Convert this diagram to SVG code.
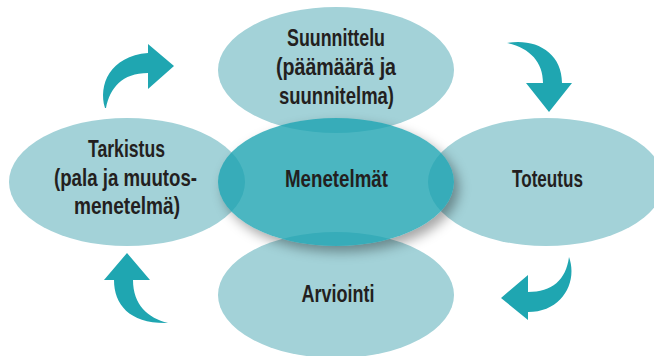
<svg xmlns="http://www.w3.org/2000/svg" width="654" height="356" viewBox="0 0 654 356">
  <style>
    .outer { fill: #A3D2D8; }
    .center { fill: #18A2AF; fill-opacity: 0.78; }
    .arrow { fill: #1FA6B1; }
    .lbl { font-family: "Liberation Sans", Arial, sans-serif; font-weight: bold; font-size: 24px; fill: #231F20; text-anchor: middle; }
  </style>
  <defs>
    <filter id="blur" x="-20%" y="-20%" width="140%" height="140%">
      <feGaussianBlur stdDeviation="6"/>
    </filter>
    <mask id="outsideCenter" maskUnits="userSpaceOnUse" x="0" y="0" width="654" height="356">
      <rect x="0" y="0" width="654" height="356" fill="#fff"/>
      <ellipse cx="336" cy="182" rx="118" ry="64" fill="#000"/>
    </mask>
  </defs>

  <g id="node-suunnittelu">
    <ellipse class="outer" cx="336" cy="70" rx="118" ry="63"/>
  </g>
  <g id="node-tarkistus">
    <ellipse class="outer" cx="127" cy="182" rx="118" ry="64"/>
  </g>
  <g id="node-toteutus">
    <ellipse class="outer" cx="546" cy="182" rx="118" ry="64"/>
  </g>
  <g id="node-arviointi">
    <ellipse class="outer" cx="336" cy="295" rx="118" ry="63"/>
  </g>

  <g id="node-menetelmat">
    <g mask="url(#outsideCenter)">
      <ellipse cx="341" cy="188" rx="118" ry="64" fill="#000" fill-opacity="0.35" filter="url(#blur)"/>
    </g>
    <ellipse class="center" cx="336" cy="182" rx="118" ry="64"/>
  </g>

  <g id="labels">
    <text class="lbl" x="336" y="46" textLength="98" lengthAdjust="spacingAndGlyphs">Suunnittelu</text>
    <text class="lbl" x="336" y="75" textLength="120" lengthAdjust="spacingAndGlyphs">(päämäärä ja</text>
    <text class="lbl" x="336.5" y="104" textLength="115" lengthAdjust="spacingAndGlyphs">suunnitelma)</text>

    <text class="lbl" x="126.5" y="157" textLength="77" lengthAdjust="spacingAndGlyphs">Tarkistus</text>
    <text class="lbl" x="125.5" y="185.5" textLength="143" lengthAdjust="spacingAndGlyphs">(pala ja muutos-</text>
    <text class="lbl" x="127" y="213.5" textLength="106" lengthAdjust="spacingAndGlyphs">menetelmä)</text>

    <text class="lbl" x="547.5" y="187" textLength="71" lengthAdjust="spacingAndGlyphs">Toteutus</text>
    <text class="lbl" x="336.5" y="187" textLength="103" lengthAdjust="spacingAndGlyphs">Menetelmät</text>
    <text class="lbl" x="338" y="302" textLength="73" lengthAdjust="spacingAndGlyphs">Arviointi</text>
  </g>

  <g id="connectors">
    <path class="arrow" d="M105,108 C98,85 110,56 148,53 L148,44 L174,66 L148,89 L148,73 C122,73 110,88 106,108 Z"/>
    <path class="arrow" d="M507,43 C535,38 562,52 562,83 L572,83 L549,112 L526,83 L543,83 C543,62 530,48 507,43 Z"/>
    <path class="arrow" d="M569,257 C578,282 562,312 528,312 L528,320 L501,298 L528,275 L528,292 C552,292 566,280 569,257 Z"/>
    <path class="arrow" d="M114,280 C114,305 130,324 168,323 C148,318 133,305 133,280 L150,280 L127,253 L104,280 Z"/>
  </g>
</svg>
